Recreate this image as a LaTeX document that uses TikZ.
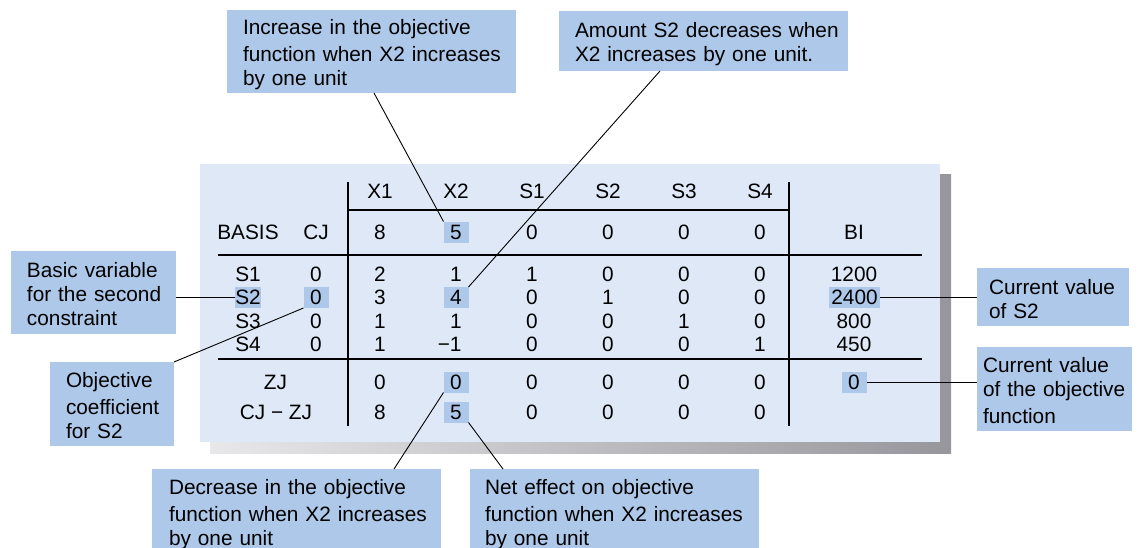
\documentclass[tikz,border=0pt]{standalone}
\usepackage{fontspec}
\setmainfont{Liberation Sans}
\usetikzlibrary{calc}
\definecolor{panelbg}{RGB}{222,232,246}
\definecolor{callbg}{RGB}{173,200,233}
\definecolor{shadl}{RGB}{232,232,234}
\definecolor{shadr}{RGB}{150,150,156}
\newcommand{\mystrut}{\rule[-3pt]{0pt}{24.3pt}}
\newcommand{\myline}[1]{\mbox{\mystrut #1}}
\hfuzz=40pt
\begin{document}
\begin{tikzpicture}[x=1pt,y=-1pt,
  every node/.style={font=\fontsize{20.8}{24.3}\selectfont},
  cell/.style={inner sep=0pt, outer sep=0pt, text height=14.9pt, text depth=0pt, anchor=center},
  hl/.style={cell, fill=callbg, minimum width=25pt, minimum height=21pt},
  callout/.style={fill=callbg, anchor=north west, align=left, inner ysep=0pt, outer sep=0pt},
  tabrule/.style={line width=1.8pt},
  conn/.style={line width=0.9pt}]
\useasboundingbox (0,0) rectangle (1139,548);
\clip (0,0) rectangle (1139,548);
% panel with shadow
\shade[left color=shadl, right color=shadr] (210,175) rectangle (951,453);
\fill[panelbg] (200,164) rectangle (940,442);
% header row
\foreach \x/\t [count=\i] in {380/X1,456/X2,532/S1,608/S2,684/S3,760/S4}
  \node[cell] (h-\i) at (\x,191) {\t};
% CJ row
\node[cell] (cj-basis) at (248,232) {BASIS};
\node[cell] (cj-cj) at (316,232) {CJ};
\node[cell] (cj-x1) at (380,232) {8};
\node[hl] (cj-x2) at (456,232) {5};
\foreach \x [count=\i] in {532,608,684,760}
  \node[cell] (cj-s\i) at (\x,232) {0};
\node[cell] (cj-bi) at (854,232) {BI};
% S1 row
\foreach \x/\t/\n in {248/S1/lab,316/0/cj,380/2/x1,456/1/x2,532/1/s1,608/0/s2,684/0/s3,760/0/s4,854/1200/bi}
  \node[cell] (r1-\n) at (\x,274) {\t};
% S2 row
\node[hl, minimum width=26pt] (r2-lab) at (248,297.5) {S2};
\node[hl] (r2-cj) at (316,297.5) {0};
\node[cell] (r2-x1) at (380,297.5) {3};
\node[hl] (r2-x2) at (456,297.5) {4};
\foreach \x/\t/\n in {532/0/s1,608/1/s2,684/0/s3,760/0/s4}
  \node[cell] (r2-\n) at (\x,297.5) {\t};
\node[hl, minimum width=51pt] (r2-bi) at (854.5,297.5) {2400};
% S3 row
\foreach \x/\t/\n in {248/S3/lab,316/0/cj,380/1/x1,456/1/x2,532/0/s1,608/0/s2,684/1/s3,760/0/s4,854/800/bi}
  \node[cell] (r3-\n) at (\x,321) {\t};
% S4 row
\foreach \x/\t/\n in {248/S4/lab,316/0/cj,380/1/x1,532/0/s1,608/0/s2,684/0/s3,760/1/s4,854/450/bi}
  \node[cell] (r4-\n) at (\x,344.5) {\t};
\node[cell, anchor=east] (r4-x2) at (461.5,344.5) {−1};
% ZJ row
\node[cell] (zj-lab) at (275.5,382) {ZJ};
\node[cell] (zj-x1) at (380,382) {0};
\node[hl] (zj-x2) at (456,382) {0};
\foreach \x [count=\i] in {532,608,684,760}
  \node[cell] (zj-s\i) at (\x,382) {0};
\node[hl] (zj-bi) at (854,382) {0};
% CJ - ZJ row
\node[cell] (cz-lab) at (276,412) {CJ − ZJ};
\node[cell] (cz-x1) at (380,412) {8};
\node[hl] (cz-x2) at (456,412) {5};
\foreach \x [count=\i] in {532,608,684,760}
  \node[cell] (cz-s\i) at (\x,412) {0};
% table rules
\draw[tabrule] (348,182) -- (348,426);
\draw[tabrule] (789,182) -- (789,426);
\draw[tabrule] (348,210) -- (789,210);
\draw[tabrule] (218,255) -- (922,255);
\draw[tabrule] (218,359) -- (922,359);
% callouts
\node[callout, text width=257pt, inner xsep=16pt, minimum height=83pt] (inc) at (227,10)
  {\myline{Increase in the objective}\\\myline{function when X2 increases}\\\myline{by one unit}};
\node[callout, text width=257pt, inner xsep=16pt, minimum height=60pt] (amt) at (559,11)
  {\myline{Amount S2 decreases when}\\\myline{X2 increases by one unit.}};
\node[callout, text width=133pt, inner xsep=16pt, minimum height=83pt] (basic) at (11,251)
  {\myline{Basic variable}\\\myline{for the second}\\\myline{constraint}};
\node[callout, text width=92pt, inner xsep=16pt, minimum height=84pt] (obj) at (50,362)
  {\myline{Objective}\\\myline{coefficient}\\\myline{for S2}};
\node[callout, text width=128pt, inner xsep=12pt, minimum height=58pt] (cur2) at (977,268)
  {\myline{Current value}\\\myline{of S2}};
\node[callout, text width=143pt, inner xsep=6pt, minimum height=84pt] (curobj) at (977,347)
  {\myline{Current value}\\\myline{of the objective}\\\myline{function}};
\node[callout, text width=255pt, inner xsep=17pt, minimum height=85pt] (dec) at (152,469)
  {\myline{Decrease in the objective}\\\myline{function when X2 increases}\\\myline{by one unit}};
\node[callout, text width=259pt, inner xsep=15pt, minimum height=85pt] (net) at (470,469)
  {\myline{Net effect on objective}\\\myline{function when X2 increases}\\\myline{by one unit}};
% connectors
\draw[conn] ([xshift=147pt]inc.south west) -- (cj-x2.north west);
\draw[conn] ([xshift=101pt]amt.south west) -- (r2-x2.north east);
\draw[conn] (r2-lab.west) -- (r2-lab.west -| basic.east);
\draw[conn] (obj.north east) -- (r2-cj.south west);
\draw[conn] (r2-bi.east) -- (r2-bi.east -| cur2.west);
\draw[conn] (zj-bi.east) -- (zj-bi.east -| curobj.west);
\draw[conn] ([xshift=242pt]dec.north west) -- (zj-x2.south west);
\draw[conn] ([xshift=33pt]net.north west) -- (cz-x2.south east);
\end{tikzpicture}
\end{document}
